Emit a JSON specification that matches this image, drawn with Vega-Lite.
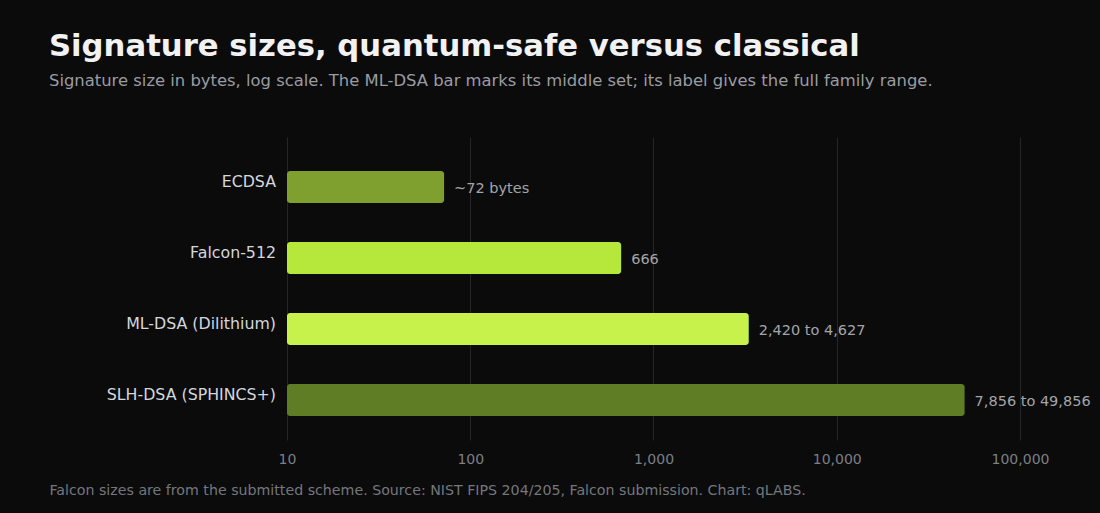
{
  "$schema": "https://vega.github.io/schema/vega-lite/v6.json",
  "width": 733,
  "height": 303,
  "autosize": {"type": "none"},
  "padding": {"left": 287, "top": 137, "right": 80, "bottom": 73},
  "background": "#0b0b0b",
  "config": {
    "font": "DejaVu Sans",
    "view": {"stroke": null}
  },
  "title": {
    "text": "Signature sizes, quantum-safe versus classical",
    "subtitle": "Signature size in bytes, log scale. The ML-DSA bar marks its middle set; its label gives the full family range.",
    "anchor": "start",
    "frame": "group",
    "dx": -238,
    "offset": 47,
    "fontSize": 30.7,
    "fontWeight": "bold",
    "color": "#f2f2f2",
    "subtitleFontSize": 16.4,
    "subtitleColor": "#9a9ca2",
    "subtitlePadding": 10
  },
  "data": {
    "values": [
      {"scheme": "ECDSA", "bytes": 72, "label": "~72 bytes", "kind": "classical"},
      {"scheme": "Falcon-512", "bytes": 666, "label": "666", "kind": "falcon"},
      {"scheme": "ML-DSA (Dilithium)", "bytes": 3309, "label": "2,420 to 4,627", "kind": "mldsa"},
      {"scheme": "SLH-DSA (SPHINCS+)", "bytes": 49856, "label": "7,856 to 49,856", "kind": "slhdsa"}
    ]
  },
  "encoding": {
    "y": {
      "field": "scheme",
      "type": "nominal",
      "sort": null,
      "scale": {"paddingInner": 0, "paddingOuter": 0.134},
      "axis": {
        "title": null,
        "ticks": false,
        "domain": false,
        "labelPadding": 11.5,
        "labelFontSize": 15.8,
        "labelColor": "#d4d7de",
        "labelFont": "DejaVu Sans"
      }
    },
    "x": {
      "field": "bytes",
      "type": "quantitative",
      "scale": {"type": "log", "domain": [10, 100000], "nice": false},
      "axis": {
        "values": [10, 100, 1000, 10000, 100000],
        "format": ",d",
        "ticks": false,
        "domain": false,
        "grid": true,
        "gridColor": "#262626",
        "gridWidth": 1,
        "labelFlush": false,
        "labelPadding": 12,
        "labelFontSize": 14,
        "labelColor": "#7c7f86",
        "title": "Falcon sizes are from the submitted scheme. Source: NIST FIPS 204/205, Falcon submission. Chart: qLABS.",
        "titleFontSize": 14.2,
        "titleFontWeight": "normal",
        "titleColor": "#74777e",
        "titleAnchor": "start",
        "titleAlign": "left",
        "titleBaseline": "alphabetic",
        "titleX": -238,
        "titleY": 54
      }
    }
  },
  "layer": [
    {
      "mark": {"type": "bar", "size": 32, "yOffset": 5, "cornerRadius": 3},
      "encoding": {
        "x2": {"datum": 10},
        "color": {
          "field": "kind",
          "type": "nominal",
          "scale": {
            "domain": ["classical", "falcon", "mldsa", "slhdsa"],
            "range": ["#7f9f2f", "#b5e83a", "#c7f24c", "#5f7d24"]
          },
          "legend": null
        }
      }
    },
    {
      "mark": {"type": "text", "align": "left", "baseline": "middle", "dx": 10, "yOffset": 7, "fontSize": 14.5, "color": "#a3a5aa"},
      "encoding": {
        "text": {"field": "label", "type": "nominal"}
      }
    }
  ]
}
